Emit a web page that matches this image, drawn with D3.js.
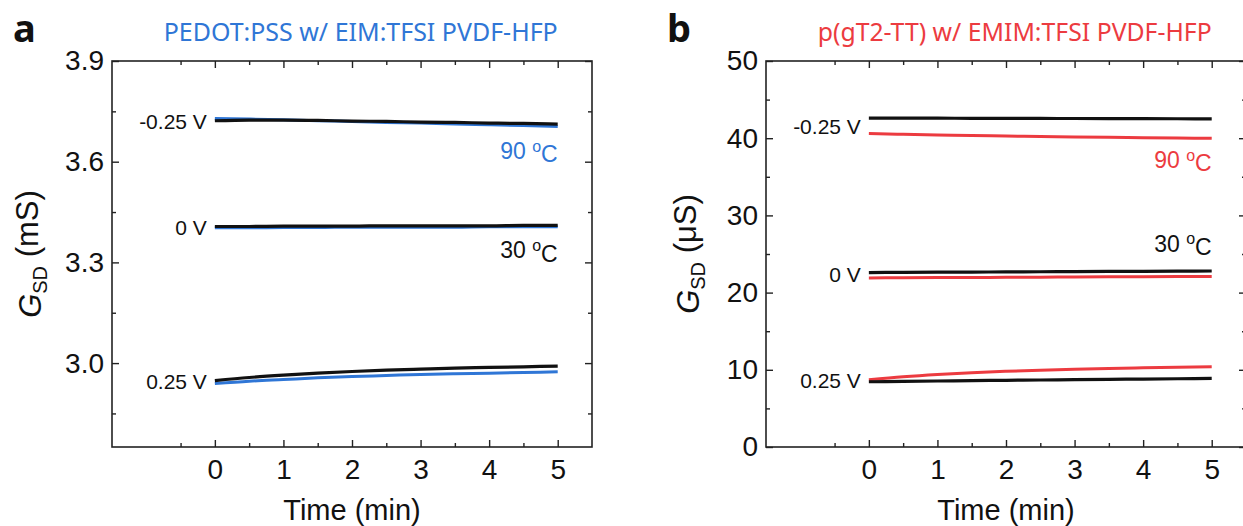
<!DOCTYPE html>
<html>
<head>
<meta charset="utf-8">
<script src="https://cdn.jsdelivr.net/npm/d3@7"></script>
<style>
  body { margin: 0; background: #fff; }
  svg { display: block; }
  text { font-family: "Liberation Sans", Arial, sans-serif; }
</style>
</head>
<body>
<svg id="chart" width="1243" height="526"></svg>
<script>
// time axis (min), shared by every trace
const times = [0, 0.5, 1, 1.5, 2, 2.5, 3, 3.5, 4, 4.5, 5];
const xMajor = [0, 1, 2, 3, 4, 5];
const xMinor = [-0.5, 0.5, 1.5, 2.5, 3.5, 4.5];

// panel a: PEDOT:PSS, G_SD in mS
const aNegBlack  = [3.722, 3.724, 3.724, 3.723, 3.721, 3.720, 3.718, 3.717, 3.715, 3.714, 3.712];
const aNegBlue   = [3.729, 3.727, 3.725, 3.722, 3.720, 3.717, 3.715, 3.712, 3.710, 3.708, 3.705];
const aZeroBlack = [3.407, 3.407, 3.408, 3.408, 3.408, 3.409, 3.409, 3.409, 3.409, 3.410, 3.410];
const aZeroBlue  = [3.403, 3.403, 3.404, 3.404, 3.405, 3.405, 3.405, 3.405, 3.406, 3.406, 3.406];
const aPosBlack  = [2.948, 2.957, 2.964, 2.970, 2.975, 2.979, 2.982, 2.985, 2.987, 2.989, 2.991];
const aPosBlue   = [2.939, 2.946, 2.951, 2.956, 2.960, 2.963, 2.966, 2.968, 2.970, 2.972, 2.974];
const aYTicks = [3.0, 3.3, 3.6, 3.9];
const aYMinor = [2.85, 3.15, 3.45, 3.75];

// panel b: p(gT2-TT), G_SD in uS
const bNegBlack  = [42.60, 42.60, 42.59, 42.58, 42.57, 42.56, 42.55, 42.54, 42.53, 42.52, 42.50];
const bNegRed    = [40.60, 40.50, 40.42, 40.35, 40.28, 40.22, 40.16, 40.11, 40.06, 40.02, 39.98];
const bZeroBlack = [22.60, 22.62, 22.64, 22.66, 22.68, 22.70, 22.72, 22.74, 22.76, 22.78, 22.80];
const bZeroRed   = [21.90, 21.92, 21.94, 21.96, 21.98, 22.00, 22.02, 22.04, 22.06, 22.08, 22.10];
const bPosBlack  = [8.45, 8.50, 8.55, 8.60, 8.64, 8.68, 8.72, 8.76, 8.80, 8.84, 8.88];
const bPosRed    = [8.70, 9.10, 9.40, 9.62, 9.80, 9.95, 10.07, 10.17, 10.26, 10.33, 10.40];
const bYTicks = [0, 10, 20, 30, 40, 50];
const bYMinor = [5, 15, 25, 35, 45];

const biasLabels = ["-0.25 V", "0 V", "0.25 V"];

const blue = "#2f76d6";
const red = "#ec3b40";
const ink = "#111";

const svg = d3.select("#chart");
const plotW = 480, plotH = 386, plotTop = 61;

function drawPanel(p) {
  const g = svg.append("g").attr("transform", `translate(${p.left},${plotTop})`);

  const x = d3.scaleLinear().domain([-1.5, 5.5]).range([0, plotW]);
  const y = d3.scaleLinear().domain(p.yDomain).range([plotH, 0]);

  // traces: coloured run first, 30 C black run on top
  const line = d3.line()
    .x((d, i) => x(times[i]))
    .y(d => y(d))
    .curve(d3.curveMonotoneX);

  p.hot.forEach(vals => {
    g.append("path").attr("d", line(vals))
      .attr("fill", "none").attr("stroke", p.color).attr("stroke-width", 3);
  });
  p.cold.forEach(vals => {
    g.append("path").attr("d", line(vals))
      .attr("fill", "none").attr("stroke", ink).attr("stroke-width", 3.2);
  });

  // axes, all ticks pointing inward
  const axStyle = sel => {
    sel.select(".domain").remove();
    sel.selectAll(".tick line").attr("stroke", "#222").attr("stroke-width", 1.4);
    sel.selectAll(".tick text").style("font-size", "28px").style("fill", ink);
  };

  g.append("g").attr("transform", `translate(0,${plotH})`)
    .call(d3.axisBottom(x).tickValues(xMajor).tickSizeInner(-7).tickSizeOuter(0)
      .tickPadding(11).tickFormat(d3.format("d")))
    .call(axStyle).selectAll(".tick text").attr("dy", "0.75em");
  g.append("g").attr("transform", `translate(0,${plotH})`)
    .call(d3.axisBottom(x).tickValues(xMinor).tickSizeInner(-4).tickSizeOuter(0).tickFormat(""))
    .call(axStyle);
  g.append("g")
    .call(d3.axisTop(x).tickValues(xMajor).tickSizeInner(-7).tickSizeOuter(0).tickFormat(""))
    .call(axStyle);
  g.append("g")
    .call(d3.axisTop(x).tickValues(xMinor).tickSizeInner(-4).tickSizeOuter(0).tickFormat(""))
    .call(axStyle);

  g.append("g")
    .call(d3.axisLeft(y).tickValues(p.yTicks).tickSizeInner(-7).tickSizeOuter(0)
      .tickPadding(8).tickFormat(p.yFormat))
    .call(axStyle);
  g.append("g")
    .call(d3.axisLeft(y).tickValues(p.yMinor).tickSizeInner(-4).tickSizeOuter(0).tickFormat(""))
    .call(axStyle);
  g.append("g").attr("transform", `translate(${plotW},0)`)
    .call(d3.axisRight(y).tickValues(p.yTicks).tickSizeInner(-7).tickSizeOuter(0).tickFormat(""))
    .call(axStyle);
  g.append("g").attr("transform", `translate(${plotW},0)`)
    .call(d3.axisRight(y).tickValues(p.yMinor).tickSizeInner(-4).tickSizeOuter(0).tickFormat(""))
    .call(axStyle);

  g.append("rect").attr("width", plotW).attr("height", plotH)
    .attr("fill", "none").attr("stroke", "#222").attr("stroke-width", 1.6);

  // bias labels beside the start of each pair of traces
  p.biasAt.forEach((v, i) => {
    g.append("text").attr("x", x(0) - 8).attr("y", y(v))
      .attr("dy", "0.36em").attr("text-anchor", "end")
      .style("font-size", "21px").style("fill", ink).text(biasLabels[i]);
  });

  // temperature labels at the right end
  const temp = (val, txt, color) => {
    const t = g.append("text").attr("x", x(5)).attr("y", y(val))
      .attr("text-anchor", "end").style("font-size", "23px").style("fill", color);
    t.append("tspan").text(txt + " ");
    t.append("tspan").text("o").attr("dy", "-0.45em").style("font-size", "16px");
    t.append("tspan").text("C").attr("dy", "0.45em");
  };
  temp(p.hotLabel, "90", p.color);
  temp(p.coldLabel, "30", ink);

  // axis titles
  g.append("text").attr("x", plotW / 2).attr("y", plotH + 73)
    .attr("text-anchor", "middle").style("font-size", "29px").style("fill", ink)
    .text("Time (min)");
  const yl = g.append("text")
    .attr("transform", `translate(${p.yTitleX},${plotH / 2}) rotate(-90)`)
    .attr("text-anchor", "middle").style("font-size", "31px").style("fill", ink);
  yl.append("tspan").text("G").style("font-style", "italic");
  yl.append("tspan").text("SD").attr("dy", "0.3em").style("font-size", "20px");
  yl.append("tspan").text(" (" + p.unit + ")").attr("dy", "-0.3em");

  // panel letter and heading
  svg.append("text").attr("x", p.left - 99).attr("y", 42)
    .style("font-family", "'Noto Sans', sans-serif").style("font-weight", "bold")
    .style("font-size", "38px").style("fill", ink).text(p.letter);
  svg.append("text").attr("x", p.left + x(5)).attr("y", 41)
    .attr("text-anchor", "end").style("fill", p.color)
    .style("font-family", "'Noto Sans', sans-serif").style("font-size", "26px")
    .attr("textLength", 394).attr("lengthAdjust", "spacingAndGlyphs")
    .text(p.title);
}

drawPanel({
  left: 112, letter: "a", title: "PEDOT:PSS w/ EIM:TFSI PVDF-HFP", color: blue, unit: "mS",
  yDomain: [2.75, 3.9], yTicks: aYTicks, yMinor: aYMinor, yFormat: d3.format(".1f"),
  hot: [aNegBlue, aZeroBlue, aPosBlue], cold: [aNegBlack, aZeroBlack, aPosBlack],
  biasAt: [3.72, 3.405, 2.945], hotLabel: 3.607, coldLabel: 3.312, yTitleX: -71
});
drawPanel({
  left: 766, letter: "b", title: "p(gT2-TT) w/ EMIM:TFSI PVDF-HFP", color: red, unit: "μS",
  yDomain: [0, 50], yTicks: bYTicks, yMinor: bYMinor, yFormat: d3.format("d"),
  hot: [bNegRed, bZeroRed, bPosRed], cold: [bNegBlack, bZeroBlack, bPosBlack],
  biasAt: [41.5, 22.4, 8.6], hotLabel: 36.1, coldLabel: 25.3, yTitleX: -67
});
</script>
</body>
</html>
